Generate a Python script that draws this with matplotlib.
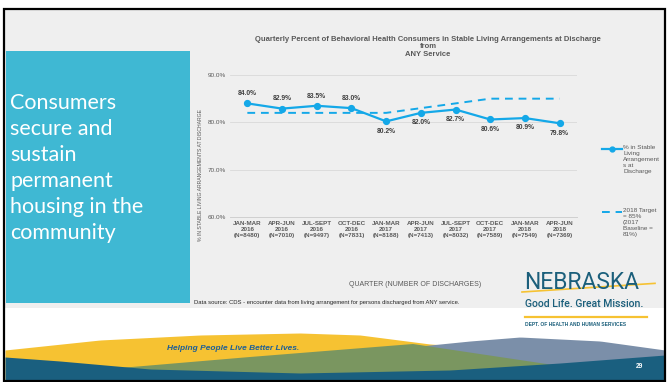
import numpy as np
import matplotlib
matplotlib.use("Agg")
import matplotlib.pyplot as plt
from matplotlib.lines import Line2D
from matplotlib.patches import Rectangle, Polygon

# Dados do gráfico
quarters = ["JAN-MAR\n2016\n(N=8480)", "APR-JUN\n2016\n(N=7010)", "JUL-SEPT\n2016\n(N=9497)",
            "OCT-DEC\n2016\n(N=7831)", "JAN-MAR\n2017\n(N=8188)", "APR-JUN\n2017\n(N=7413)",
            "JUL-SEPT\n2017\n(N=8032)", "OCT-DEC\n2017\n(N=7589)", "JAN-MAR\n2018\n(N=7549)",
            "APR-JUN\n2018\n(N=7369)"]
stable_pct = [84.0, 82.9, 83.5, 83.0, 80.2, 82.0, 82.7, 80.6, 80.9, 79.8]
target_pct = [82, 82, 82, 82, 82, 83, 84, 85, 85, 85]
label_above = [True, True, True, True, False, False, False, False, False, False]
yticks = [60, 70, 80, 90]

W, H = 667, 382
BLUE = "#14a8e8"
GREY = "#595959"
TEAL = "#1b5f7b"

fig = plt.figure(figsize=(W / 100, H / 100), dpi=100)
fig.patch.set_facecolor("white")

# fundo do slide (coordenadas em pixels)
bg = fig.add_axes([0, 0, 1, 1], zorder=0)
bg.set_xlim(0, W)
bg.set_ylim(H, 0)
bg.axis("off")
bg.add_patch(Rectangle((5, 10), 660, 298, color="#efefef", lw=0))
bg.add_patch(Rectangle((6, 51), 184, 252, color="#3fb8d3", lw=0))

# ondas do rodape
xs = np.linspace(5, 665, 200)
def curve(px, py):
    return np.interp(xs, px, py)

yellow = curve([5, 100, 200, 300, 360, 430, 665], [350, 340, 335, 333, 335, 344, 360])
bg.fill_between(xs, yellow, 381, color="#f6c232", lw=0)
bluegrey = curve([380, 470, 520, 600, 665], [350, 341, 337, 341, 350])
m = xs >= 380
bg.fill_between(xs[m], bluegrey[m], 381, color="#7b8fa9", lw=0)
bg.add_patch(Polygon([(110, 381), (120, 368), (250, 357), (413, 344), (600, 372), (600, 381)],
                     closed=True, color="#7a9660", lw=0))
teal = curve([5, 60, 150, 300, 450, 560, 665], [357, 361, 369, 373, 370, 363, 355])
bg.fill_between(xs, teal, 381, color="#1a5f7f", lw=0)

bg.add_patch(Rectangle((4, 9), 661, 372, fill=False, ec="black", lw=1.6))

# texto lateral
fig.text(10 / W, 1 - 239 / H, "Consumers\nsecure and\nsustain\npermanent\nhousing in the\ncommunity",
         color="white", fontsize=15.5, family="Lato", va="baseline", ha="left", linespacing=1.38)

# gráfico principal
ax = fig.add_axes([230 / W, 1 - 217 / H, 347 / W, 142 / H], zorder=2)
ax.patch.set_alpha(0)
x = np.arange(len(quarters))
ax.plot(x, stable_pct, color=BLUE, lw=1.6, marker="o", ms=4.2, zorder=3)
ax.plot(x, target_pct, color=BLUE, lw=1.4, ls=(0, (4, 3)), zorder=2)
for xi, v, up in zip(x, stable_pct, label_above):
    ax.annotate(f"{v:.1f}%", (xi, v), xytext=(0, 7 if up else -7), textcoords="offset points",
                ha="center", va="center", fontsize=4.9, fontweight="bold", color="#404040",
                family="Liberation Sans")

ax.set_xlim(-0.5, len(quarters) - 0.5)
ax.set_ylim(60, 90)
ax.set_yticks(yticks)
ax.set_yticklabels([f"{t:.1f}%" for t in yticks], fontsize=4.6, color=GREY, family="Liberation Sans")
ax.set_xticks(x)
ax.set_xticklabels(quarters, fontsize=4.5, fontweight="bold", color=GREY, family="Liberation Sans",
                   linespacing=1.25)
ax.tick_params(length=0, pad=3)
ax.grid(axis="y", color="#d9d9d9", lw=0.6)
for s in ["top", "right", "left"]:
    ax.spines[s].set_visible(False)
ax.spines["bottom"].set_color("#d0d0d0")
ax.spines["bottom"].set_linewidth(0.7)

fig.text(428 / W, 1 - 47 / H,
         "Quarterly Percent of Behavioral Health Consumers in Stable Living Arrangements at Discharge\nfrom\nANY Service",
         ha="center", va="center", fontsize=5.5, fontweight="bold", color=GREY,
         family="Liberation Sans", linespacing=1.15)
fig.text(415 / W, 1 - 284 / H, "QUARTER (NUMBER OF DISCHARGES)", ha="center", va="center",
         fontsize=5, color=GREY, family="Liberation Sans")
fig.text(201 / W, 1 - 175 / H, "% IN STABLE LIVING ARRANGEMENTS AT DISCHARGE", rotation=90,
         ha="center", va="center", fontsize=3.7, color=GREY, family="Liberation Sans")
fig.text(194 / W, 1 - 302.5 / H,
         "Data source: CDS - encounter data from living arrangement for persons discharged from ANY service.",
         ha="left", va="center", fontsize=4.2, color="#262626", family="Liberation Sans")

# legenda manual
fig.add_artist(Line2D([602 / W, 622 / W], [1 - 149 / H] * 2, color=BLUE, lw=1.6))
fig.add_artist(Line2D([612 / W], [1 - 149 / H], color=BLUE, marker="o", ms=3.5))
fig.text(623 / W, 1 - 145 / H, "% in Stable\nLiving\nArrangement\ns at\nDischarge", ha="left", va="top",
         fontsize=4.6, color=GREY, family="Liberation Sans", linespacing=1.25)
fig.add_artist(Line2D([602 / W, 622 / W], [1 - 212 / H] * 2, color=BLUE, lw=1.4, ls=(0, (4, 3))))
fig.text(623 / W, 1 - 208 / H, "2018 Target\n= 85%\n(2017\nBaseline =\n81%)", ha="left", va="top",
         fontsize=4.6, color=GREY, family="Liberation Sans", linespacing=1.25)

# logotipo
fig.text(524 / W, 1 - 289 / H, "NEBRASKA", ha="left", va="baseline", fontsize=16.5,
         color=TEAL, family="Roboto")
sw = np.linspace(522, 655, 50)
bg.plot(sw, 292 - (sw - 522) * 0.065, color="#f6c232", lw=1.2, zorder=3)
fig.text(525 / W, 1 - 307 / H, "Good Life. Great Mission.", ha="left", va="baseline", fontsize=7.6,
         color=TEAL, family="Roboto", fontweight="medium")
bg.plot([525, 647], [316.5, 316.5], color="#f6c232", lw=1.6)
fig.text(525 / W, 1 - 324.5 / H, "DEPT. OF HEALTH AND HUMAN SERVICES", ha="left", va="center",
         fontsize=3.5, fontweight="bold", color=TEAL, family="Liberation Sans")

fig.text(167 / W, 1 - 348 / H, "Helping People Live Better Lives.", ha="left", va="center",
         fontsize=6, fontweight="bold", style="italic", color="#1d5f96", family="Liberation Sans")
fig.text(639 / W, 1 - 366 / H, "29", ha="center", va="center", fontsize=4.8, fontweight="bold",
         color="white", family="Liberation Sans")

fig.savefig("out.png", dpi=100)
